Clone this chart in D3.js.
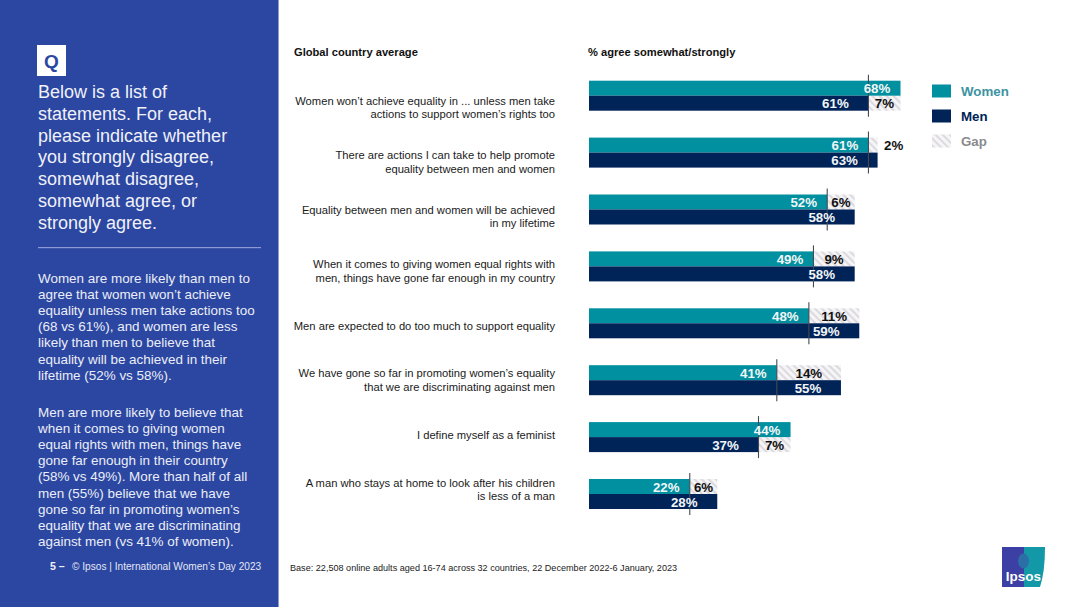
<!DOCTYPE html>
<html><head><meta charset="utf-8">
<script src="https://cdnjs.cloudflare.com/ajax/libs/d3/7.8.5/d3.min.js"></script>
<style>html,body{margin:0;padding:0;background:#fff;overflow:hidden}svg{display:block;font-family:"Liberation Sans",Arial,sans-serif}</style>
</head><body><div id="chart"></div>
<script>
const statements=[
["Women won’t achieve equality in ... unless men take","actions to support women’s rights too"],
["There are actions I can take to help promote","equality between men and women"],
["Equality between men and women will be achieved","in my lifetime"],
["When it comes to giving women equal rights with","men, things have gone far enough in my country"],
["Men are expected to do too much to support equality"],
["We have gone so far in promoting women’s equality","that we are discriminating against men"],
["I define myself as a feminist"],
["A man who stays at home to look after his children","is less of a man"]];
const women=[68,61,52,49,48,41,44,22];
const men=[61,63,58,58,59,55,37,28];
const legendItems=["Women","Men","Gap"];
const questionLines=["Below is a list of","statements. For each,","please indicate whether","you strongly disagree,","somewhat disagree,","somewhat agree, or","strongly agree."];
const bodyOne=["Women are more likely than men to","agree that women won’t achieve","equality unless men take actions too","(68 vs 61%), and women are less","likely than men to believe that","equality will be achieved in their","lifetime (52% vs 58%)."];
const bodyTwo=["Men are more likely to believe that","when it comes to giving women","equal rights with men, things have","gone far enough in their country","(58% vs 49%). More than half of all","men (55%) believe that we have","gone so far in promoting women’s","equality that we are discriminating","against men (vs 41% of women)."];

const W=1080,H=607,TEAL="#00909f",NAVY="#002358",BLUE="#2b47a1";
const svg=d3.select("#chart").append("svg").attr("width",W).attr("height",H).attr("viewBox",[0,0,W,H]);
const defs=svg.append("defs");
const pat=defs.append("pattern").attr("id","hatch").attr("patternUnits","userSpaceOnUse").attr("width",5).attr("height",5).attr("patternTransform","rotate(-45)");
pat.append("rect").attr("width",5).attr("height",5).attr("fill","#f5f4f6");
pat.append("rect").attr("width",2).attr("height",5).attr("fill","#dcdadf");
const lg=defs.append("linearGradient").attr("id","logo");
lg.append("stop").attr("offset","50%").attr("stop-color","#3c3fa3");
lg.append("stop").attr("offset","52%").attr("stop-color","#1398a8");

svg.append("rect").attr("width",W).attr("height",H).attr("fill","#fff");
svg.append("rect").attr("width",278).attr("height",H).attr("fill",BLUE);
svg.append("rect").attr("x",278).attr("width",1).attr("height",H).attr("fill","#8d9bd0");

// Left panel
svg.append("rect").attr("x",37).attr("y",45).attr("width",29).attr("height",31).attr("fill","#fff");
svg.append("text").attr("x",51.5).attr("y",68).attr("text-anchor","middle").attr("font-size",19).attr("font-weight",700).attr("fill",BLUE).text("Q");
const lines=(arr,x,y,lh,size,fill)=>svg.append("g").selectAll("text").data(arr).join("text")
  .attr("x",x).attr("y",(d,i)=>y+i*lh).attr("font-size",size).attr("fill",fill).text(d=>d);
lines(questionLines,38,98,21.75,18,"#f0f1f8");
svg.append("rect").attr("x",38).attr("y",247).attr("width",223).attr("height",1.2).attr("fill","#8c9ad6");
lines(bodyOne,38,283,16.1,13.45,"#eceef7");
lines(bodyTwo,38,417,16.1,13.45,"#eceef7");
svg.append("text").attr("x",50).attr("y",570).attr("font-size",10.6).attr("font-weight",700).attr("fill","#f0f1f8").text("5 –");
svg.append("text").attr("x",72).attr("y",570).attr("font-size",10.13).attr("fill","#e3e6f4").text("© Ipsos | International Women’s Day 2023");

// Headers
svg.append("text").attr("x",294).attr("y",56).attr("font-size",11.15).attr("font-weight",700).attr("fill","#111").text("Global country average");
svg.append("text").attr("x",588).attr("y",56).attr("font-size",11.15).attr("font-weight",700).attr("fill","#111").text("% agree somewhat/strongly");

// Scales
const x=d3.scaleLinear().domain([0,68]).range([589,900.5]);
const idx=d3.range(women.length);
const y=d3.scaleBand().domain(idx).range([80.7,80.7+56.9*8]);
const yLabel=d3.scalePoint().domain(idx).range([107.5,489.5]);
const barH=15;
const rows=svg.append("g").selectAll("g").data(idx).join("g").attr("transform",i=>`translate(0,${y(i)})`);

// gap
rows.append("rect").attr("x",i=>x(Math.min(women[i],men[i]))).attr("y",i=>women[i]<men[i]?0:barH)
 .attr("width",i=>x(Math.max(women[i],men[i]))-x(Math.min(women[i],men[i]))).attr("height",barH).attr("fill","url(#hatch)");
rows.append("rect").attr("x",x(0)).attr("y",0).attr("width",i=>x(women[i])-x(0)).attr("height",barH).attr("fill",TEAL);
rows.append("rect").attr("x",x(0)).attr("y",barH).attr("width",i=>x(men[i])-x(0)).attr("height",barH).attr("fill",NAVY);
rows.append("line").attr("x1",i=>x(Math.min(women[i],men[i]))).attr("x2",i=>x(Math.min(women[i],men[i])))
 .attr("y1",-6).attr("y2",36).attr("stroke","#454a55").attr("stroke-width",1.1);

// value labels
rows.append("text").attr("x",i=>x(women[i])-23.5).attr("y",12.6).attr("text-anchor","middle")
 .attr("font-size",13.3).attr("font-weight",700).attr("fill","#f2f6f8").text(i=>women[i]+"%");
rows.append("text").attr("x",i=>x(men[i])-33).attr("y",27.8).attr("text-anchor","middle")
 .attr("font-size",13.3).attr("font-weight",700).attr("fill","#f2f6f8").text(i=>men[i]+"%");
rows.append("text").attr("x",i=>{const g=Math.abs(women[i]-men[i]);return g<3?x(Math.max(women[i],men[i]))+16:(x(women[i])+x(men[i]))/2;})
 .attr("y",i=>women[i]<men[i]?12.6:27.8).attr("text-anchor","middle").attr("font-size",13.3).attr("font-weight",700).attr("fill","#111")
 .text(i=>Math.abs(women[i]-men[i])+"%");

// statement labels
const labels=svg.append("g").selectAll("g").data(idx).join("g").attr("transform",i=>`translate(555,${yLabel(i)})`);
labels.each(function(i){
  const t=statements[i];
  const y0=3.8-(t.length-1)*6.75;
  d3.select(this).selectAll("text").data(t).join("text").attr("text-anchor","end")
   .attr("y",(d,j)=>y0+j*13.5).attr("font-size",11.2).attr("fill","#1a1a1a").text(d=>d);
});

// legend
const legY=d3.scalePoint().domain(legendItems).range([91,141]);
const legFill={Women:TEAL,Men:NAVY,Gap:"url(#hatch)"},legText={Women:"#3e93a3",Men:NAVY,Gap:"#8a8a8e"};
const leg=svg.append("g").selectAll("g").data(legendItems).join("g").attr("transform",d=>`translate(0,${legY(d)})`);
leg.append("rect").attr("x",932).attr("y",-6.5).attr("width",19).attr("height",13).attr("fill",d=>legFill[d]);
leg.append("text").attr("x",961).attr("y",4.7).attr("font-size",13.3).attr("font-weight",700).attr("fill",d=>legText[d]).text(d=>d);

// footer
svg.append("text").attr("x",290).attr("y",571).attr("font-size",9.1).attr("fill","#222").text("Base: 22,508 online adults aged 16-74 across 32 countries, 22 December 2022-6 January, 2023");

// logo
const lp=d3.path();lp.moveTo(1002,547);lp.lineTo(1045,547);lp.quadraticCurveTo(1045,572,1040,587);lp.lineTo(1002,587);lp.closePath();
svg.append("path").attr("d",lp.toString()).attr("fill","url(#logo)");
svg.append("ellipse").attr("cx",1023.5).attr("cy",561).attr("rx",5.5).attr("ry",7.5).attr("fill","#2c6fa6");
svg.append("text").attr("x",1023.5).attr("y",581).attr("text-anchor","middle").attr("font-size",13.5).attr("font-weight",700).attr("fill","#fff").text("Ipsos");
</script></body></html>
